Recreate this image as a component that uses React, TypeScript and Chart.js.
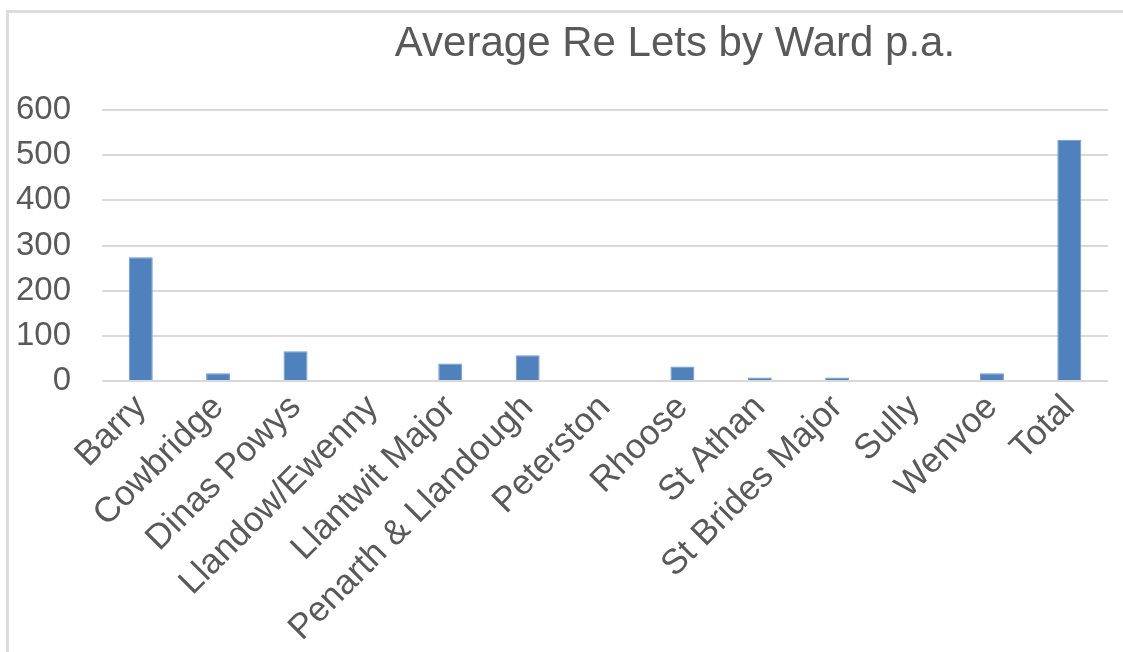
import React, { useEffect, useRef } from "react";
import { Chart, registerables } from "chart.js";

Chart.register(...registerables);

const chartTitle = "Average Re Lets by Ward p.a.";
const categories = [
  "Barry",
  "Cowbridge",
  "Dinas Powys",
  "Llandow/Ewenny",
  "Llantwit Major",
  "Penarth & Llandough",
  "Peterston",
  "Rhoose",
  "St Athan",
  "St Brides Major",
  "Sully",
  "Wenvoe",
  "Total",
];
const reLets = [274, 17, 66, 0, 39, 57, 0, 32, 8, 8, 0, 17, 534];
const yMin = 0;
const yMax = 600;
const yStep = 100;

const FONT = "'Liberation Sans', Arial, sans-serif";
const TEXT = "#595959";
const SHIFT = 29;

const titlePlugin = {
  id: "customTitle",
  afterDraw(chart: any) {
    const ctx = chart.ctx;
    ctx.save();
    ctx.font = `42px ${FONT}`;
    ctx.fillStyle = TEXT;
    ctx.textAlign = "center";
    ctx.textBaseline = "middle";
    ctx.fillText(chartTitle, 675 + SHIFT, 44);
    ctx.restore();
  },
};

export default function App() {
  const ref = useRef<HTMLCanvasElement | null>(null);

  useEffect(() => {
    if (!ref.current) return;
    const chart = new Chart(ref.current, {
      type: "bar",
      data: {
        labels: categories,
        datasets: [
          {
            label: chartTitle,
            data: reLets,
            backgroundColor: "#4F81BD",
            borderColor: "#6E98CC",
            borderWidth: 1,
            barPercentage: 0.31,
            categoryPercentage: 1,
          },
        ],
      },
      options: {
        animation: false,
        responsive: false,
        maintainAspectRatio: false,
        layout: { padding: { top: 110, left: 14, right: 15, bottom: 0 } },
        plugins: {
          legend: { display: false },
          title: { display: false },
          tooltip: { enabled: false },
        },
        scales: {
          x: {
            grid: { display: false, drawTicks: false },
            border: { display: false },
            ticks: {
              autoSkip: false,
              minRotation: 45,
              maxRotation: 45,
              color: TEXT,
              padding: 6,
              font: { family: FONT, size: 35 },
            },
          },
          y: {
            min: yMin,
            max: yMax,
            grid: { color: "#d9d9d9", lineWidth: 2, drawTicks: false },
            border: { display: false },
            ticks: {
              stepSize: yStep,
              color: TEXT,
              padding: 31,
              font: { family: FONT, size: 33 },
            },
          },
        },
      },
      plugins: [titlePlugin],
    });
    return () => chart.destroy();
  }, []);

  return (
    <div
      style={{
        position: "fixed",
        left: 0,
        top: 0,
        width: 1123,
        height: 652,
        overflow: "hidden",
        background: "#fff",
      }}
    >
      <div
        style={{
          position: "absolute",
          left: 6,
          top: 10,
          width: 1200,
          height: 800,
          border: "3px solid #dcdcdc",
          boxSizing: "border-box",
        }}
      />
      <canvas
        ref={ref}
        width={1123 + SHIFT}
        height={652}
        style={{
          position: "absolute",
          left: -SHIFT,
          top: 0,
          width: 1123 + SHIFT,
          height: 652,
        }}
      />
    </div>
  );
}
